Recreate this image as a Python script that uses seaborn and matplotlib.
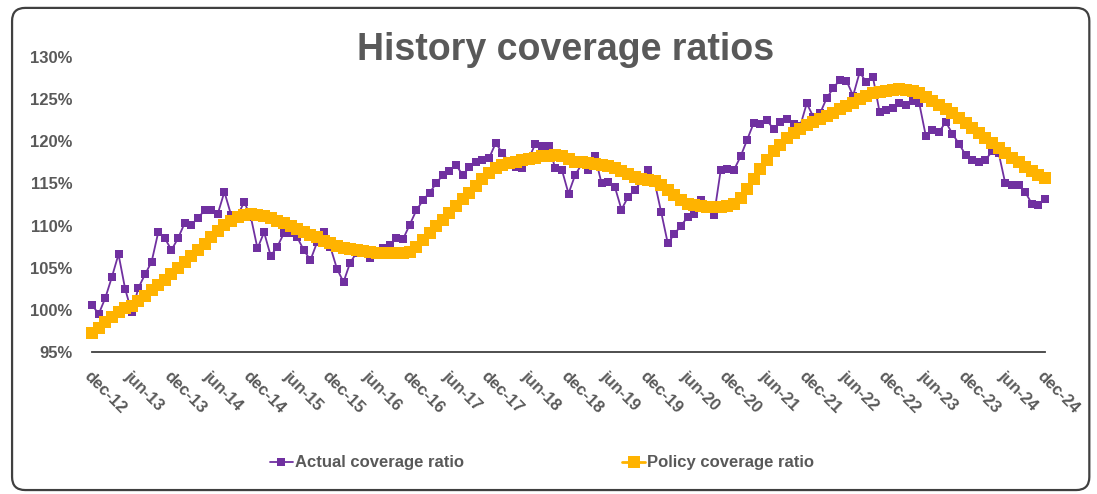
import matplotlib
matplotlib.use("Agg")
import matplotlib.pyplot as plt
import seaborn as sns
import pandas as pd
from matplotlib.patches import FancyBboxPatch

# Monthly values, dec-12 .. dec-24 (145 months), in %
actual = [
    100.6, 99.5, 101.4, 103.9, 106.6, 102.5, 99.7, 102.6, 104.2, 105.7, 109.2, 108.5,
    107.1, 108.5, 110.3, 110.1, 110.9, 111.8, 111.8, 111.4, 114.0, 111.3, 111.2, 112.8,
    111.0, 107.3, 109.2, 106.4, 107.5, 109.1, 109.1, 108.6, 107.1, 105.9, 108.0, 109.2,
    107.5, 104.9, 103.3, 105.6, 106.8, 107.0, 106.1, 107.0, 107.3, 107.7, 108.5, 108.4,
    110.1, 111.8, 113.0, 113.9, 115.0, 116.0, 116.5, 117.2, 116.0, 116.9, 117.6, 117.8,
    118.0, 119.8, 118.6, 117.6, 117.0, 116.8, 118.0, 119.7, 119.4, 119.4, 116.8, 116.6,
    113.8, 116.0, 117.3, 116.6, 118.2, 115.0, 115.2, 114.6, 111.9, 113.4, 114.2, 115.3,
    116.6, 115.2, 111.6, 107.9, 109.0, 110.0, 111.0, 111.4, 113.0, 112.2, 111.3, 116.6,
    116.7, 116.6, 118.2, 120.2, 122.2, 122.1, 122.5, 121.4, 122.3, 122.7, 122.1, 121.8,
    124.5, 122.9, 123.3, 125.1, 126.3, 127.3, 127.2, 125.4, 128.2, 127.0, 127.6, 123.5,
    123.7, 123.9, 124.5, 124.3, 124.8, 124.5, 120.6, 121.3, 121.1, 122.3, 120.9, 119.7,
    118.4, 117.8, 117.6, 117.8, 118.8, 118.6, 115.0, 114.8, 114.8, 114.0, 112.6, 112.5,
    113.2,
]
policy = [
    97.3, 97.9, 98.6, 99.2, 99.8, 100.2, 100.5, 101.0, 101.6, 102.3, 103.0, 103.6,
    104.3, 105.0, 105.7, 106.4, 107.1, 107.8, 108.6, 109.4, 110.1, 110.6, 111.0, 111.3,
    111.4, 111.3, 111.1, 110.9, 110.6, 110.3, 110.0, 109.6, 109.2, 108.9, 108.6, 108.2,
    107.9, 107.6, 107.3, 107.2, 107.1, 107.0, 106.9, 106.8, 106.8, 106.8, 106.8, 106.7,
    106.9, 107.5, 108.3, 109.1, 109.9, 110.7, 111.5, 112.3, 113.1, 113.9, 114.7, 115.5,
    116.2, 116.8, 117.2, 117.4, 117.6, 117.8, 117.9, 118.0, 118.2, 118.3, 118.4, 118.2,
    117.9, 117.6, 117.5, 117.4, 117.3, 117.2, 117.1, 116.8, 116.5, 116.1, 115.8, 115.5,
    115.4, 115.3, 114.8, 114.2, 113.6, 113.0, 112.6, 112.4, 112.3, 112.2, 112.2, 112.2,
    112.3, 112.6, 113.3, 114.3, 115.5, 116.7, 117.8, 118.8, 119.6, 120.4, 121.0, 121.5,
    121.9, 122.3, 122.7, 123.0, 123.4, 123.8, 124.2, 124.6, 125.0, 125.4, 125.7, 125.9,
    126.0, 126.1, 126.2, 126.1, 126.0, 125.7, 125.3, 124.8, 124.3, 123.8, 123.3, 122.8,
    122.2, 121.6, 121.0, 120.4, 119.8, 119.2, 118.6, 118.0, 117.5, 117.0, 116.5, 116.0,
    115.6,
]
tick_labels = [
    "dec-12", "jun-13", "dec-13", "jun-14", "dec-14", "jun-15", "dec-15", "jun-16",
    "dec-16", "jun-17", "dec-17", "jun-18", "dec-18", "jun-19", "dec-19", "jun-20",
    "dec-20", "jun-21", "dec-21", "jun-22", "dec-22", "jun-23", "dec-23", "jun-24",
    "dec-24",
]
y_ticks = [95, 100, 105, 110, 115, 120, 125, 130]
series_names = ["Actual coverage ratio", "Policy coverage ratio"]
title = "History coverage ratios"

months = list(range(len(actual)))
df = pd.DataFrame({"month": months, series_names[0]: actual, series_names[1]: policy})

PURPLE = "#7030A0"
ORANGE = "#FFB300"
TEXT = "#595959"

sns.set_theme(style="white")
plt.rcParams["font.family"] = ["Liberation Sans", "DejaVu Sans"]

fig = plt.figure(figsize=(10.97, 4.94), dpi=100)
ax = fig.add_axes([0.0839, 0.2874, 0.8687, 0.5972])

sns.lineplot(data=df, x="month", y=series_names[0], ax=ax, color=PURPLE,
             marker="s", markersize=6, markeredgewidth=0, linewidth=1.3,
             label=series_names[0], clip_on=False, zorder=3)
sns.lineplot(data=df, x="month", y=series_names[1], ax=ax, color=ORANGE,
             marker="s", markersize=8.5, markeredgewidth=0, linewidth=2,
             label=series_names[1], clip_on=False, zorder=4)

handles, labels = ax.get_legend_handles_labels()
if ax.get_legend() is not None:
    ax.get_legend().remove()

ax.set_xlim(0, len(actual) - 1)
ax.set_ylim(y_ticks[0], y_ticks[-1])
ax.set_xlabel("")
ax.set_ylabel("")

ax.set_yticks(y_ticks)
ax.set_yticklabels([f"{v}%" for v in y_ticks], fontsize=12, fontweight="bold", color=TEXT)
ax.set_xticks(list(range(0, len(actual), 6)))
ax.set_xticklabels(tick_labels, rotation=-45, ha="left", va="top",
                   rotation_mode="anchor", fontsize=12, fontweight="bold", color=TEXT)

for s in ["left", "right", "top"]:
    ax.spines[s].set_visible(False)
ax.spines["bottom"].set_color("#404040")
ax.spines["bottom"].set_linewidth(1.3)
ax.tick_params(axis="y", length=0, pad=14)
ax.tick_params(axis="x", direction="in", length=4, width=1, color="#404040", pad=12)
ax.grid(False)

fig.text(0.516, 0.898, title, ha="center", va="center", fontsize=27,
         fontweight="bold", color=TEXT)

leg = fig.legend(handles, labels, loc="center", bbox_to_anchor=(0.494, 0.063), ncol=2,
                 frameon=False, columnspacing=9.5, handlelength=1.4, handletextpad=0.1,
                 prop=dict(size=12, weight="bold"))
for t in leg.get_texts():
    t.set_color(TEXT)

border = FancyBboxPatch((0.011, 0.008), 0.982, 0.976,
                        boxstyle="round,pad=0,rounding_size=0.012",
                        transform=fig.transFigure, fill=False,
                        edgecolor="#404040", linewidth=1.6, mutation_aspect=2.2)
fig.patches.append(border)

fig.savefig("out.png", dpi=100)
